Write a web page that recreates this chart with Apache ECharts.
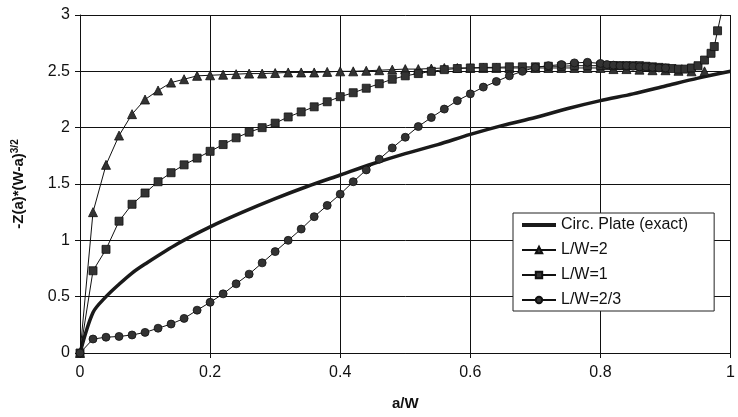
<!DOCTYPE html>
<html>
<head>
<meta charset="utf-8">
<script src="https://cdn.jsdelivr.net/npm/echarts@6/dist/echarts.min.js"></script>
<style>
  html, body { margin: 0; padding: 0; background: #fff; }
  #chart { width: 738px; height: 417px; }
</style>
</head>
<body>
<div id="chart"></div>
<script>
// a/W positions shared by the three FEM series (0 to 0.8)
const aw = [0, 0.02, 0.04, 0.06, 0.08, 0.1, 0.12, 0.14, 0.16, 0.18,
  0.2, 0.22, 0.24, 0.26, 0.28, 0.3, 0.32, 0.34, 0.36, 0.38,
  0.4, 0.42, 0.44, 0.46, 0.48, 0.5, 0.52, 0.54, 0.56, 0.58,
  0.6, 0.62, 0.64, 0.66, 0.68, 0.7, 0.72, 0.74, 0.76, 0.78, 0.8];

// Circ. Plate (exact)
const plateX = [0, 0.02, 0.04, 0.06, 0.08, 0.1, 0.15, 0.2, 0.25, 0.3, 0.35, 0.4,
  0.45, 0.5, 0.55, 0.6, 0.65, 0.7, 0.75, 0.8, 0.85, 0.9, 0.95, 1.0];
const plateY = [0, 0.36, 0.5, 0.61, 0.71, 0.79, 0.97, 1.12, 1.25, 1.37, 1.48, 1.58,
  1.68, 1.77, 1.85, 1.94, 2.02, 2.09, 2.17, 2.24, 2.3, 2.37, 2.44, 2.5];

// L/W=2 (triangles)
const lw2Y = [0, 1.25, 1.67, 1.93, 2.12, 2.25, 2.33, 2.4, 2.43, 2.46,
  2.465, 2.47, 2.475, 2.48, 2.48, 2.485, 2.49, 2.49, 2.49, 2.495,
  2.5, 2.5, 2.505, 2.51, 2.515, 2.52, 2.52, 2.525, 2.53, 2.53,
  2.53, 2.53, 2.53, 2.53, 2.53, 2.53, 2.53, 2.53, 2.53, 2.53, 2.53];
const lw2TailX = [0.82, 0.84, 0.86, 0.88, 0.9, 0.92, 0.94, 0.96];
const lw2TailY = [2.52, 2.52, 2.515, 2.51, 2.51, 2.505, 2.5, 2.5];

// L/W=1 (squares)
const lw1Y = [0, 0.73, 0.92, 1.17, 1.32, 1.42, 1.52, 1.6, 1.67, 1.73,
  1.79, 1.85, 1.91, 1.96, 2.0, 2.04, 2.095, 2.14, 2.185, 2.23,
  2.275, 2.31, 2.35, 2.39, 2.43, 2.46, 2.48, 2.5, 2.515, 2.525,
  2.53, 2.535, 2.535, 2.54, 2.54, 2.54, 2.545, 2.545, 2.55, 2.55, 2.55];
const lw1TailX = [0.81, 0.82, 0.83, 0.84, 0.85, 0.86, 0.87, 0.88, 0.89, 0.9,
  0.91, 0.92, 0.93, 0.94, 0.95, 0.96, 0.97, 0.975, 0.98, 0.986];
const lw1TailY = [2.55, 2.55, 2.55, 2.55, 2.55, 2.55, 2.545, 2.54, 2.535, 2.53,
  2.525, 2.52, 2.52, 2.53, 2.55, 2.6, 2.66, 2.72, 2.86, 3.02];

// L/W=2/3 (circles)
const lw23Y = [0, 0.124, 0.14, 0.147, 0.16, 0.183, 0.22, 0.257, 0.307, 0.38,
  0.45, 0.525, 0.614, 0.7, 0.8, 0.9, 1.0, 1.1, 1.21, 1.31,
  1.41, 1.52, 1.625, 1.72, 1.82, 1.915, 2.01, 2.09, 2.165, 2.24,
  2.3, 2.36, 2.41, 2.46, 2.5, 2.535, 2.55, 2.56, 2.575, 2.58, 2.57];
const lw23TailX = [0.81, 0.82, 0.83, 0.84, 0.85, 0.86, 0.87, 0.88, 0.89, 0.9];
const lw23TailY = [2.56, 2.555, 2.55, 2.55, 2.545, 2.54, 2.54, 2.535, 2.53, 2.53];

const seriesNames = ['Circ. Plate (exact)', 'L/W=2', 'L/W=1', 'L/W=2/3'];

function pairs(xs, ys) {
  return xs.map((x, i) => [x, ys[i]]);
}

const chart = echarts.init(document.getElementById('chart'), null, { renderer: 'canvas' });

const fontFam = 'Liberation Sans, Arial, sans-serif';
const axisFont = { fontFamily: fontFam, fontSize: 16, color: '#111' };

function femSeries(name, symbol, size, data) {
  return {
    name: name,
    type: 'line',
    data: data,
    symbol: symbol,
    symbolSize: size,
    showAllSymbol: true,
    lineStyle: { color: '#111', width: 1 },
    itemStyle: { color: '#333', borderColor: '#111', borderWidth: 0.8 },
    emphasis: { disabled: true }
  };
}

const option = {
  backgroundColor: '#fff',
  animation: false,
  grid: { left: 80, top: 15, width: 658, bottom: 64 },
  legend: {
    orient: 'vertical',
    left: 513,
    top: 213,
    data: [
      { name: seriesNames[0], itemStyle: { opacity: 0 }, lineStyle: { width: 4, color: '#1a1a1a' } },
      { name: seriesNames[1] },
      { name: seriesNames[2] },
      { name: seriesNames[3] }
    ],
    backgroundColor: '#fff',
    borderColor: '#222',
    borderWidth: 1,
    borderRadius: 0,
    padding: [4, 26, 3, 7],
    itemWidth: 34,
    itemHeight: 8,
    itemGap: 9,
    textStyle: { fontFamily: fontFam, fontSize: 16, lineHeight: 16, color: '#111' }
  },
  xAxis: {
    type: 'value',
    min: 0,
    max: 1,
    interval: 0.2,
    name: 'a/W',
    nameLocation: 'middle',
    nameGap: 43,
    nameTextStyle: { fontFamily: fontFam, fontSize: 15, fontWeight: 'bold', color: '#111' },
    axisLine: { show: true, lineStyle: { color: '#111', width: 1 } },
    axisTick: { show: true, length: 5, lineStyle: { color: '#111' } },
    axisLabel: Object.assign({ margin: 12 }, axisFont),
    splitLine: { show: true, lineStyle: { color: '#111', width: 1 } }
  },
  yAxis: {
    type: 'value',
    min: 0,
    max: 3,
    interval: 0.5,
    name: '-Z(a)*(W-a){sup|3/2}',
    nameLocation: 'middle',
    nameRotate: 90,
    nameGap: 52,
    nameTextStyle: {
      fontFamily: fontFam, fontSize: 15, fontWeight: 'bold', color: '#111',
      rich: {
        sup: { fontFamily: fontFam, fontSize: 10, fontWeight: 'bold', color: '#111', padding: [0, 0, 8, 0] }
      }
    },
    axisLine: { show: true, lineStyle: { color: '#111', width: 1 } },
    axisTick: { show: true, length: 5, lineStyle: { color: '#111' } },
    axisLabel: Object.assign({ margin: 10 }, axisFont),
    splitLine: { show: true, lineStyle: { color: '#111', width: 1 } }
  },
  series: [
    {
      name: seriesNames[0],
      type: 'line',
      data: pairs(plateX, plateY),
      symbol: 'none',
      smooth: 0.3,
      lineStyle: { color: '#1a1a1a', width: 3.5 },
      itemStyle: { color: '#1a1a1a' },
      emphasis: { disabled: true }
    },
    femSeries(seriesNames[1], 'triangle', 9,
      pairs(aw.concat(lw2TailX), lw2Y.concat(lw2TailY))),
    femSeries(seriesNames[2], 'rect', 8,
      pairs(aw.concat(lw1TailX), lw1Y.concat(lw1TailY))),
    femSeries(seriesNames[3], 'circle', 8,
      pairs(aw.concat(lw23TailX), lw23Y.concat(lw23TailY)))
  ]
};

chart.setOption(option);
window.addEventListener('resize', chart.resize);
</script>
</body>
</html>
